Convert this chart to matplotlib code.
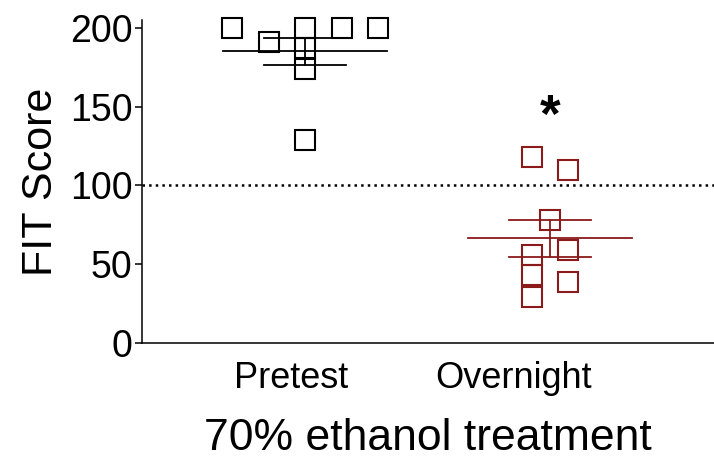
import numpy as np
import matplotlib
matplotlib.use("Agg")
import matplotlib.pyplot as plt

plt.rcParams['font.family'] = ['Liberation Sans', 'DejaVu Sans']

# datos
grupos = ['Pretest', 'Overnight']
pretest = [200, 191, 200, 187, 174, 200, 200, 129]
pretest_pos = [-2, -1, 0, 0, 0, 1, 2, 0]  # columna de cada punto (dispersion)
overnight = [118, 110, 78, 56, 59, 43, 39, 29]
overnight_pos = [-0.5, 0.5, 0, -0.5, 0.5, -0.5, 0.5, -0.5]
linea_ref = 100
yticks = [0, 50, 100, 150, 200]

colores = ['black', '#8b1a1a']
paso = 0.149  # separacion horizontal entre puntos

fig = plt.figure(figsize=(7.14, 4.66), dpi=100)
ax = fig.add_axes([0.199, 0.264, 0.801, 0.693])

series = [(pretest, pretest_pos), (overnight, overnight_pos)]
for i, (vals, pos) in enumerate(series):
    xc = i + 1
    vals = np.array(vals, dtype=float)
    xs = xc + np.array(pos) * paso
    ax.plot(xs, vals, 's', ms=14, mfc='none', mec=colores[i], mew=1.5, zorder=3, clip_on=False)
    media = vals.mean()
    sem = vals.std(ddof=1) / np.sqrt(len(vals))
    ax.plot([xc - 0.335, xc + 0.335], [media, media], color=colores[i], lw=1.3, zorder=4)
    ax.plot([xc - 0.167, xc + 0.167], [media + sem] * 2, color=colores[i], lw=1.3, zorder=4)
    ax.plot([xc - 0.167, xc + 0.167], [media - sem] * 2, color=colores[i], lw=1.3, zorder=4)
    ax.plot([xc, xc], [media - sem, media + sem], color=colores[i], lw=1.3, zorder=4)

ax.axhline(linea_ref, color='black', ls=':', lw=1.8, zorder=2)
ax.text(2, 143, '*', fontsize=38, fontweight='bold', ha='center', va='center')

ax.set_xlim(0.335, 2.669)
ax.set_ylim(0, 205)
ax.set_yticks(yticks)
ax.set_xticks([0.943, 1.853])
ax.set_xticklabels(grupos, fontsize=26)
ax.tick_params(axis='x', length=0, pad=13)
ax.tick_params(axis='y', labelsize=27, length=5, width=1.1, direction='out', pad=2)
ax.set_ylabel('FIT Score', fontsize=31, labelpad=6)
ax.set_xlabel('70% ethanol treatment', fontsize=32, labelpad=16)

for s in ['top', 'right']:
    ax.spines[s].set_visible(False)
ax.spines['left'].set_linewidth(1.1)
ax.spines['bottom'].set_linewidth(1.1)

fig.savefig('out.png', dpi=100)
